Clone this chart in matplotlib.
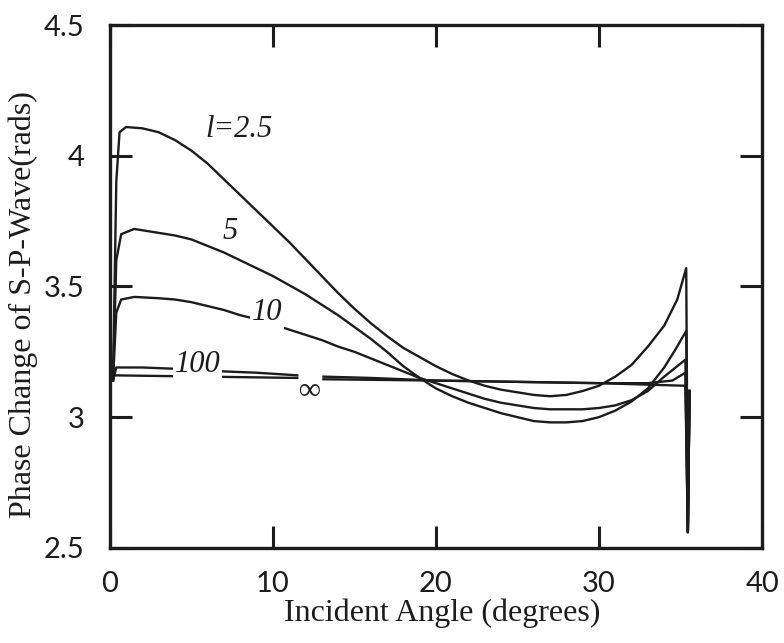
import numpy as np
import matplotlib.pyplot as plt

# Phase change of the S-P wave against incident angle, for several values of l.
# Values (nan marks where the drawn line is broken).

angle_l25 = [0.2, 0.4, 0.6, 1, 2, 3, 4, 5, 6, 7, 8, 9, 10, 11, 12, 13, 14, 15, 16, 17,
             18, 19, 20, 21, 22, 23, 24, 25, 26, 27, 28, 29, 30, 31, 32, 33, 34, 34.8,
             35.35, 35.45, 35.55]
phase_l25 = [3.14, 3.90, 4.09, 4.11, 4.105, 4.09, 4.06, 4.02, 3.97, 3.91, 3.85, 3.79,
             3.73, 3.67, 3.605, 3.54, 3.475, 3.415, 3.36, 3.31, 3.265, 3.23, 3.195, 3.165,
             3.14, 3.12, 3.105, 3.095, 3.085, 3.08, 3.085, 3.10, 3.12, 3.155, 3.20, 3.27,
             3.35, 3.45, 3.57, 2.56, 3.10]

angle_l5 = [0.2, 0.4, 0.7, 1.5, 3, 4, 5, 6, 7, 8, 9, 10, 11, 12, 13, 14, 15, 16, 17, 18,
            19, 20, 21, 22, 23, 24, 25, 26, 27, 28, 29, 30, 31, 32, 33, 34, 34.7, 35.35,
            35.45, 35.55]
phase_l5 = [3.14, 3.60, 3.70, 3.72, 3.705, 3.695, 3.68, 3.655, 3.63, 3.60, 3.57, 3.54,
            3.505, 3.47, 3.43, 3.39, 3.345, 3.30, 3.25, 3.195, 3.15, 3.11, 3.08, 3.055,
            3.035, 3.015, 3.00, 2.985, 2.98, 2.98, 2.985, 3.00, 3.025, 3.06, 3.11, 3.19,
            3.26, 3.33, 2.56, 3.10]

angle_l10 = [0.2, 0.4, 0.7, 1.5, 3, 4, 5, 6, 7, 8, 9, 10, 11, 12, 13, 14, 15, 16, 17, 18,
             19, 20, 21, 22, 23, 24, 25, 26, 27, 28, 29, 30, 31, 32, 33, 34, 34.7, 35.3,
             35.45, 35.55]
phase_l10 = [3.14, 3.40, 3.45, 3.46, 3.455, 3.45, 3.44, 3.425, 3.41, 3.39, 3.375, 3.355,
             3.335, 3.315, 3.295, 3.27, 3.25, 3.225, 3.20, 3.175, 3.15, 3.13, 3.11, 3.09,
             3.07, 3.055, 3.045, 3.035, 3.03, 3.03, 3.03, 3.035, 3.045, 3.065, 3.10, 3.155,
             3.19, 3.22, 2.56, 3.10]

angle_l100 = [0.2, 0.4, 2, 4, 7, 9, 11.5, np.nan, 13.1, 16, 20, 25, 30, 33, 34.5, 35.3,
              35.45, 35.55]
phase_l100 = [3.14, 3.19, 3.19, 3.185, 3.175, 3.17, 3.16, np.nan, 3.155, 3.15, 3.14, 3.135,
              3.13, 3.13, 3.14, 3.17, 2.56, 3.10]

angle_inf = [0.2, 11.5, np.nan, 13.1, 20, 30, 35.3, 35.45, 35.55]
phase_inf = [3.16, 3.15, np.nan, 3.145, 3.14, 3.13, 3.12, 2.56, 3.10]

curve_labels = ['l=2.5', '5', '10', '100', '\u221e']
label_x = [7.9, 7.4, 9.65, 5.4, 12.2]
label_y = [4.10, 3.71, 3.40, 3.20, 3.10]

x_ticks = [0, 10, 20, 30, 40]
y_ticks = [2.5, 3.0, 3.5, 4.0, 4.5]
y_tick_labels = ['2.5', '3', '3.5', '4', '4.5']

ink = '#1c1c1c'
serif = 'Liberation Serif'

fig = plt.figure(figsize=(7.84, 6.43), dpi=100)
ax = fig.add_axes([0.14, 0.148, 0.832, 0.813])

curves = [(angle_l25, phase_l25), (angle_l5, phase_l5), (angle_l10, phase_l10),
          (angle_l100, phase_l100), (angle_inf, phase_inf)]
for xs, ys in curves:
    ax.plot(xs, ys, color=ink, lw=1.7, zorder=2, solid_joinstyle='round')

# curve labels, italic like the original; a white box breaks the line underneath
for text, x, y in zip(curve_labels, label_x, label_y):
    box = None
    if text in ('10', '100'):
        box = dict(boxstyle='square,pad=0.05', facecolor='white', edgecolor='none')
    ax.text(x, y, text, fontsize=22, family=serif, style='italic', color=ink,
            ha='center', va='center', bbox=box, zorder=3)

ax.set_xlim(0, 40)
ax.set_ylim(2.5, 4.5)
ax.set_xticks(x_ticks)
ax.set_yticks(y_ticks)
ax.set_yticklabels(y_tick_labels)

ax.tick_params(direction='in', length=16, width=2.2, color=ink,
               top=True, right=True, labelsize=21, labelcolor=ink)
ax.tick_params(axis='x', pad=17)
ax.tick_params(axis='y', pad=18)
for lab in ax.get_xticklabels() + ax.get_yticklabels():
    lab.set_family('Lato')

for side in ax.spines.values():
    side.set_linewidth(2.4)
    side.set_color(ink)

ax.set_xlabel('Incident Angle (degrees)', fontsize=23, family=serif, color=ink)
ax.set_ylabel('Phase Change of S-P-Wave(rads)', fontsize=23, family=serif, color=ink)
ax.xaxis.label.set_va('center')
ax.yaxis.label.set_va('center')
ax.xaxis.set_label_coords(0.509, -0.125)
ax.yaxis.set_label_coords(-0.133, 0.465)

fig.savefig('out.png', dpi=100)
